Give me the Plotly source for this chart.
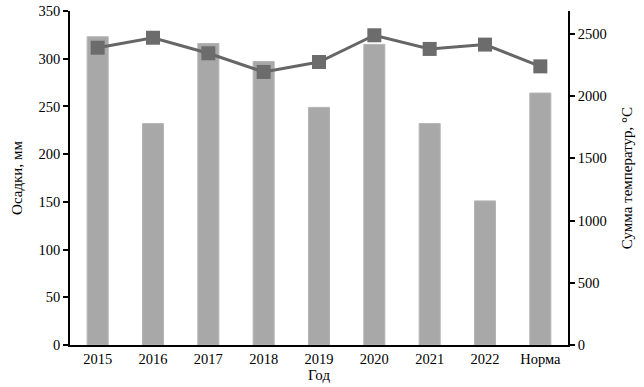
import plotly.graph_objects as go

years = ["2015", "2016", "2017", "2018", "2019", "2020", "2021", "2022", "Норма"]
precip_mm = [323, 232, 316, 297, 249, 315, 232, 151, 264]
temp_sum = [2390, 2470, 2345, 2195, 2275, 2490, 2380, 2415, 2240]

FONT = "Liberation Serif"

fig = go.Figure()
fig.add_trace(go.Bar(
    x=years, y=precip_mm, width=0.38,
    marker=dict(color="#a8a8a8", line=dict(color="#b4b4b4", width=1)),
    yaxis="y", showlegend=False,
))
fig.add_trace(go.Scatter(
    x=years, y=temp_sum, mode="lines+markers",
    line=dict(color="#666666", width=3),
    marker=dict(symbol="square", size=14, color="#6c6c6c"),
    yaxis="y2", showlegend=False,
))

fig.update_layout(
    width=644, height=387,
    margin=dict(l=70, r=76, t=11, b=42),
    plot_bgcolor="white", paper_bgcolor="white",
    font=dict(family=FONT, size=14, color="black"),
    xaxis=dict(
        type="category", range=[-0.5, 8.5], automargin=False,
        showline=True, linecolor="black", linewidth=1.5,
        ticks="", showgrid=False,
        title=dict(text="Год", standoff=2, font=dict(size=15)),
        tickfont=dict(size=14.5),
    ),
    yaxis=dict(
        range=[0, 350], tickvals=[0, 50, 100, 150, 200, 250, 300, 350],
        automargin=False,
        showline=True, linecolor="black", linewidth=1.5,
        ticks="outside", ticklen=5, tickcolor="black", tickwidth=1.5,
        showgrid=False, zeroline=False,
        title=dict(text="Осадки, мм", standoff=12, font=dict(size=15)),
        tickfont=dict(size=14.5),
    ),
    yaxis2=dict(
        overlaying="y", side="right",
        range=[0, 2685], tickvals=[0, 500, 1000, 1500, 2000, 2500],
        automargin=False,
        showline=True, linecolor="black", linewidth=1.5,
        ticks="outside", ticklen=5, tickcolor="black", tickwidth=1.5,
        showgrid=False, zeroline=False,
        title=dict(text="Сумма температур, °C", standoff=16, font=dict(size=15)),
        tickfont=dict(size=14.5),
    ),
    bargap=0.6,
)

fig.write_html("out.html", config={"displayModeBar": False},
               post_script="document.body.style.margin='0';")
